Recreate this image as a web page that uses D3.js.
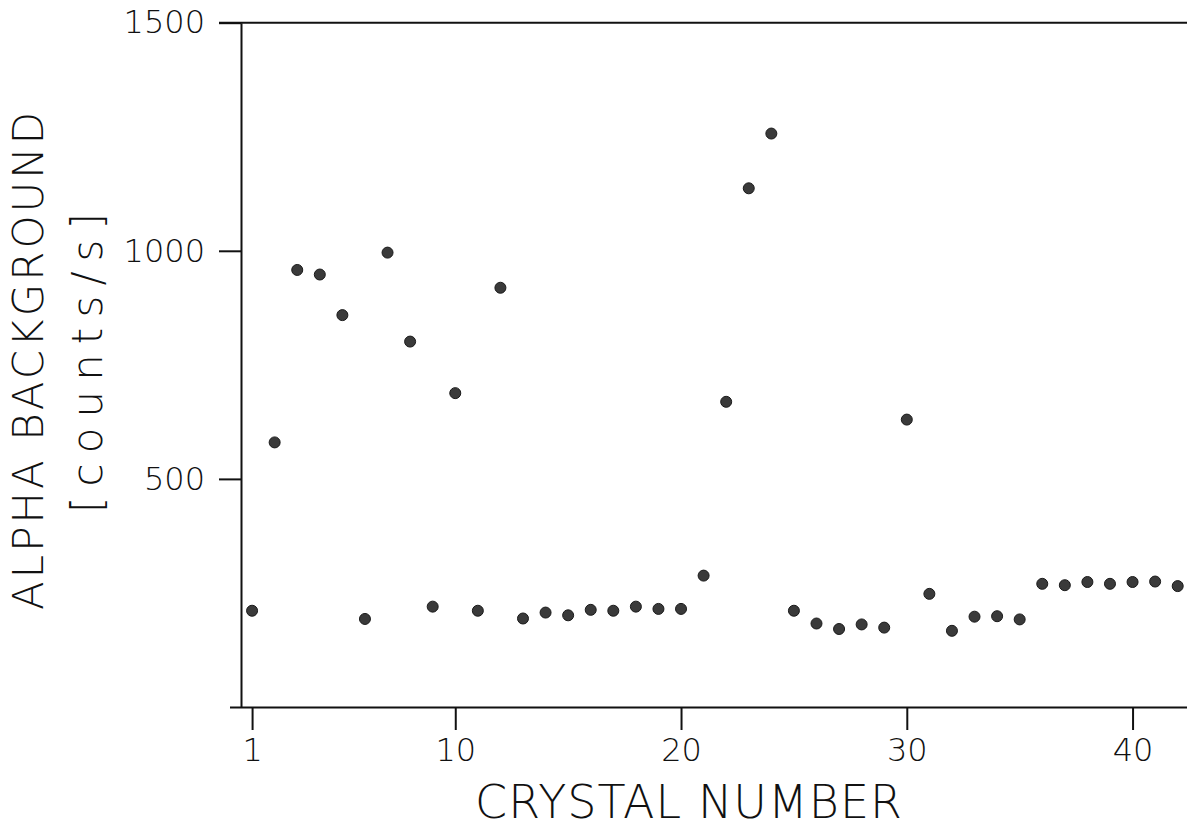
<!DOCTYPE html>
<html>
<head>
<meta charset="utf-8">
<script src="https://cdn.jsdelivr.net/npm/d3@7"></script>
<style>
  html, body { margin: 0; padding: 0; background: #fff; }
  svg { display: block; }
  .axis text { font-family: "DejaVu Sans", sans-serif; font-weight: 200; fill: #111; }
  .axis line, .axis path { stroke: #111; stroke-width: 2; }
  .title { font-family: "DejaVu Sans", sans-serif; font-weight: 200; fill: #111; }
</style>
</head>
<body>
<svg id="chart" width="1187" height="829"></svg>
<script>
const crystals = d3.range(1, 43);

const background = [
  211, 580, 958, 948, 859, 193, 996, 801, 220, 688,
  211, 919, 194, 207, 201, 213, 211, 220, 215, 215,
  288, 669, 1137, 1257, 211, 183, 171, 181, 174, 630,
  248, 167, 198, 199, 192, 270, 267, 274, 270, 274,
  275, 265,
];

const xTicks = [1, 10, 20, 30, 40];
const yTicks = [500, 1000, 1500];

const width = 1187;
const height = 829;

// frame position of the axes in the plot
const AXIS = {
  left: 241,
  top: 22.7,
  bottom: 707,
  tick: 22,
};

const svg = d3.select("#chart");

const xScale = d3.scaleLinear().domain([0, 42.5]).range([229.5, 1189]);
const yScale = d3.scaleLinear().domain([0, 1500]).range([AXIS.bottom, AXIS.top]);

const xAxis = d3
  .axisBottom(xScale)
  .tickValues(xTicks)
  .tickFormat(d3.format("d"))
  .tickSize(23)
  .tickSizeOuter(0)
  .tickPadding(8);

const yAxis = d3
  .axisLeft(yScale)
  .tickValues(yTicks)
  .tickFormat(d3.format("d"))
  .tickSize(AXIS.tick)
  .tickSizeOuter(0)
  .tickPadding(14);

svg
  .append("g")
  .attr("class", "axis x-axis")
  .attr("transform", `translate(0, ${AXIS.bottom})`)
  .call(xAxis)
  .call((g) => g.selectAll("text").style("font-size", "32px"));

svg
  .append("g")
  .attr("class", "axis y-axis")
  .attr("transform", `translate(${AXIS.left}, 0)`)
  .call(yAxis)
  .call((g) => g.selectAll("text").style("font-size", "32px"));

// top border continues the 1500 tick across the plot
svg
  .append("line")
  .attr("x1", AXIS.left - AXIS.tick)
  .attr("x2", width)
  .attr("y1", yScale(1500))
  .attr("y2", yScale(1500))
  .attr("stroke", "#111")
  .attr("stroke-width", 2);

svg
  .append("g")
  .selectAll("circle")
  .data(crystals)
  .join("circle")
  .attr("cx", (d) => xScale(d))
  .attr("cy", (d, i) => yScale(background[i]))
  .attr("r", 5.5)
  .attr("fill", "#3a3a3a")
  .attr("stroke", "#1a1a1a")
  .attr("stroke-width", 1);

svg
  .append("text")
  .attr("class", "title")
  .attr("x", 475)
  .attr("y", 818)
  .attr("textLength", 427)
  .attr("lengthAdjust", "spacing")
  .style("font-size", "46px")
  .text("CRYSTAL NUMBER");

svg
  .append("text")
  .attr("class", "title")
  .attr("transform", "translate(43, 361) rotate(-90)")
  .attr("text-anchor", "middle")
  .attr("textLength", 498)
  .attr("lengthAdjust", "spacing")
  .style("font-size", "42px")
  .text("ALPHA BACKGROUND");

svg
  .append("text")
  .attr("class", "title")
  .attr("transform", "translate(102, 363) rotate(-90)")
  .attr("text-anchor", "middle")
  .attr("textLength", 300)
  .attr("lengthAdjust", "spacing")
  .style("font-size", "42px")
  .text("[counts/s]");
</script>
</body>
</html>
